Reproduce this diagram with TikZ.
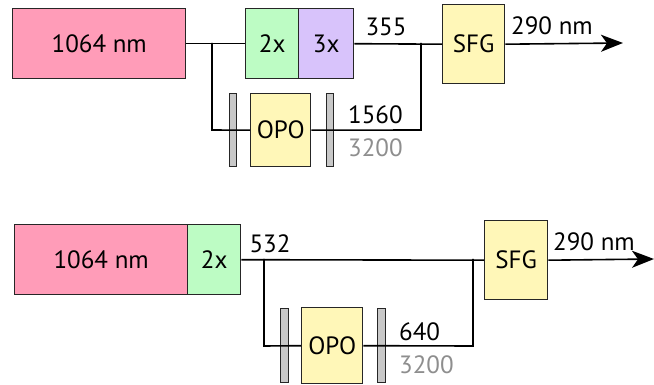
\documentclass[tikz,border=0pt]{standalone}
\usepackage{fontspec}
\setmainfont{PT Sans}
\usetikzlibrary{arrows.meta}
\definecolor{laserpink}{HTML}{FF9CB8}
\definecolor{shggreen}{HTML}{BDFCC4}
\definecolor{thgpurple}{HTML}{D8C3FB}
\definecolor{boxyellow}{HTML}{FFF7B8}
\definecolor{mirrorgray}{HTML}{C8C8C8}
\definecolor{idlergray}{HTML}{8E8E8E}
\begin{document}
\begin{tikzpicture}[x=1pt,y=-1pt,
  font=\fontsize{25}{29}\selectfont,
  blk/.style={draw=black!85,line width=1.4pt,anchor=north west,inner sep=0pt,
    text height=17.5pt,text depth=0pt,align=center},
  mirror/.style={draw=black!85,fill=mirrorgray,line width=1.2pt,anchor=north west,inner sep=0pt},
  beam/.style={draw=black,line width=1.6pt},
  tip/.style={-{Stealth[length=22pt,width=17pt,inset=6pt]}},
  lbl/.style={anchor=base,inner sep=0pt},
  lblw/.style={anchor=base west,inner sep=0pt}]
\useasboundingbox (0,0) rectangle (654,385);
% ---------- top system ----------
\node[blk,fill=laserpink,minimum width=173pt,minimum height=70pt] (laserA) at (12,8) {1064 nm};
\node[blk,fill=shggreen,minimum width=53pt,minimum height=70pt] (dblA) at (245,8) {2x};
\node[blk,fill=thgpurple,minimum width=55pt,minimum height=70pt] (triA) at (298,8) {3x};
\node[mirror,minimum width=7pt,minimum height=73pt] (m1A) at (229,93) {};
\node[blk,fill=boxyellow,minimum width=60pt,minimum height=73pt] (opoA) at (250,93) {OPO};
\node[mirror,minimum width=7pt,minimum height=73pt] (m2A) at (326,93) {};
\node[blk,fill=boxyellow,minimum width=62pt,minimum height=79pt] (sfgA) at (442,4) {SFG};
\coordinate (jA1) at (212,43);
\coordinate (jA2) at (212,130);
\coordinate (jA3) at (421,130);
\coordinate (jA4) at (421,43);
\coordinate (endA) at (623,43);
\draw[beam] (laserA.east) -- (dblA.west);
\draw[beam] (jA1) -- (jA2) -- (opoA.west);
\draw[beam] (opoA.east) -- (jA3) -- (jA4);
\draw[beam] (triA.east) -- (sfgA.west);
\draw[beam,tip] (sfgA.east) -- (endA);
\node[lbl] (l355) at (386,36) {355};
\node[lbl] (l290A) at (552,35) {290 nm};
\node[lblw] (l1560) at (348,124) {1560};
\node[lblw,text=idlergray] (l3200A) at (348,157) {3200};
% ---------- bottom system ----------
\node[blk,fill=laserpink,minimum width=173pt,minimum height=70pt] (laserB) at (14,224) {1064 nm};
\node[blk,fill=shggreen,minimum width=53pt,minimum height=70pt] (dblB) at (187,224) {2x};
\node[mirror,minimum width=8pt,minimum height=74pt] (m1B) at (280,308) {};
\node[blk,fill=boxyellow,minimum width=61pt,minimum height=76pt] (opoB) at (301,307) {OPO};
\node[mirror,minimum width=8pt,minimum height=74pt] (m2B) at (377,308) {};
\node[blk,fill=boxyellow,minimum width=63pt,minimum height=79pt] (sfgB) at (484,220) {SFG};
\coordinate (jB1) at (264,259);
\coordinate (jB2) at (264,346);
\coordinate (jB3) at (473,346);
\coordinate (jB4) at (473,259);
\coordinate (endB) at (654,259);
\draw[beam] (dblB.east) -- (sfgB.west);
\draw[beam] (jB1) -- (jB2) -- (opoB.west);
\draw[beam] (opoB.east) -- (jB3) -- (jB4);
\draw[beam,tip] (sfgB.east) -- (endB);
\node[lbl] (l532) at (270,253) {532};
\node[lbl] (l290B) at (594,251) {290 nm};
\node[lblw] (l640) at (399,340) {640};
\node[lblw,text=idlergray] (l3200B) at (399,373) {3200};
\end{tikzpicture}
\end{document}
